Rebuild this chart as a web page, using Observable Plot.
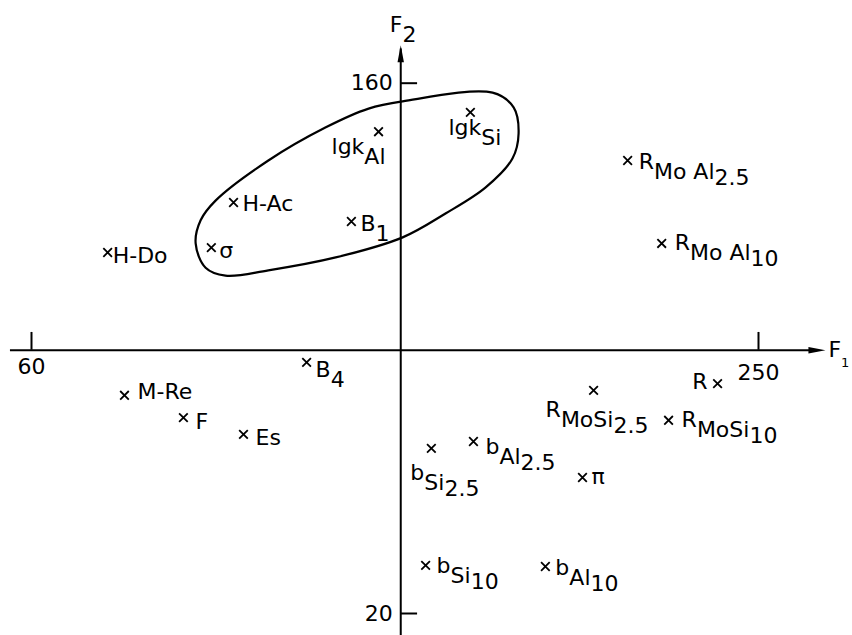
<!DOCTYPE html>
<html>
<head>
<meta charset="utf-8">
<script src="https://cdn.jsdelivr.net/npm/d3@7"></script>
<script src="https://cdn.jsdelivr.net/npm/@observablehq/plot@0.6"></script>
<style>
  html, body { margin: 0; padding: 0; background: #fff; }
  #chart { width: 852px; height: 635px; }
</style>
</head>
<body>
<div id="chart"></div>
<script>
// ---------- data ----------
const labels = ["H-Do", "σ", "H-Ac", "lgk_{Al}", "B_{1}", "lgk_{Si}",
  "R_{Mo Al_{2.5}}", "R_{Mo Al_{10}}", "B_{4}", "M-Re", "F", "Es", "R",
  "R_{MoSi_{2.5}}", "R_{MoSi_{10}}", "b_{Si_{2.5}}", "b_{Al_{2.5}}", "π",
  "b_{Si_{10}}", "b_{Al_{10}}"];
const f1 = [79.9, 107, 112.8, 150.7, 143.6, 174.7, 215.8, 224.7, 131.9, 84.3,
  99.7, 115.4, 239.3, 206.9, 226.5, 164.5, 175.5, 204, 163, 194.3];
const f2 = [115.3, 116.6, 128.5, 147.2, 123.5, 152.3, 139.6, 117.7, 86.3, 77.6,
  71.7, 67.3, 80.7, 78.9, 71, 63.6, 65.4, 55.9, 32.7, 32.4];

// enclosing curve (F1, F2)
const hullF1 = [157, 180.5, 186, 187.3, 185.7, 178.7, 168.2, 157, 139.5, 121.9,
  110.7, 105.5, 102.9, 104.2, 108.1, 121.9, 136.8, 148.1];
const hullF2 = [155.2, 157.5, 153.6, 146.7, 140.1, 132.5, 125.6, 119.3, 114, 110.6,
  109.2, 111.3, 117.7, 123.8, 129, 139.6, 148.3, 153.3];

const xTicks = [60, 250];
const yTicks = [160, 20];
const axisTitles = ["F_{1}", "F_{2}"];
const axisCrossF1 = 156.5, axisCrossF2 = 89.5;
const xAxisExtent = [54.5, 267.5];
const yAxisExtent = [14, 170];

// ---------- layout (label anchor, dx, dy in px) ----------
const labelLayout = [
  ["start", 5, 3], ["start", 8, 3], ["start", 9, 1], ["end", 7, 15], ["start", 9, 2],
  ["start", -22, 16], ["start", 11, 1], ["start", 13, 0], ["start", 9, 8], ["start", 13, -3],
  ["start", 12, 4], ["start", 12, 4], ["end", -10, -2], ["start", -48, 20], ["start", 13, 0],
  ["start", -21, 25], ["start", 12, 5], ["start", 9, -1], ["start", 11, 1], ["start", 10, 1]
];

const rows = labels.map((label, i) => ({label, f1: f1[i], f2: f2[i]}));
const hull = hullF1.map((v, i) => ({f1: v, f2: hullF2[i]}));

// filled, slender arrowhead symbol: tip at the anchor point, pointing up
const arrowHead = {
  draw(context) {
    context.moveTo(0, 0);
    context.lineTo(3.2, 17);
    context.lineTo(-3.2, 17);
    context.closePath();
  }
};

const FS = 22;
const marks = [
  Plot.line(hull, {x: "f1", y: "f2", curve: "catmull-rom-closed", stroke: "black", strokeWidth: 2.2}),
  // axes
  Plot.ruleY([axisCrossF2], {x1: xAxisExtent[0], x2: xAxisExtent[1] - 2, stroke: "black", strokeWidth: 2}),
  Plot.ruleX([axisCrossF1], {y1: yAxisExtent[0], y2: yAxisExtent[1] - 1, stroke: "black", strokeWidth: 2}),
  Plot.dot([{x: xAxisExtent[1], y: axisCrossF2}], {x: "x", y: "y", symbol: arrowHead, rotate: 90, fill: "black", stroke: "none"}),
  Plot.dot([{x: axisCrossF1, y: yAxisExtent[1]}], {x: "x", y: "y", symbol: arrowHead, fill: "black", stroke: "none"}),
  // ticks
  Plot.ruleY(yTicks, {x1: axisCrossF1, x2: axisCrossF1 + 4.4, stroke: "black", strokeWidth: 2}),
  Plot.ruleX(xTicks, {y1: axisCrossF2, y2: axisCrossF2 + 4.7, stroke: "black", strokeWidth: 2}),
  Plot.text(yTicks, {x: axisCrossF1, y: d => d, text: d => String(d), textAnchor: "end", dx: -8, fontSize: FS}),
  Plot.text([xTicks[0]], {x: d => d, y: axisCrossF2, text: d => String(d), dy: 17, fontSize: FS}),
  Plot.text([xTicks[1]], {x: d => d, y: axisCrossF2, text: d => String(d), dy: 23, fontSize: FS}),
  Plot.text([axisTitles[0]], {x: xAxisExtent[1], y: axisCrossF2, text: d => d, textAnchor: "start", dx: 3, dy: 0, fontSize: FS}),
  Plot.text([axisTitles[1]], {x: axisCrossF1, y: yAxisExtent[1], text: d => d, textAnchor: "start", dx: -11, dy: -20, fontSize: FS}),
  // points
  Plot.dot(rows, {x: "f1", y: "f2", symbol: "times", r: 4, stroke: "black", strokeWidth: 1.8}),
  ...rows.map((r, i) => Plot.text([r], {x: "f1", y: "f2", text: "label",
    textAnchor: labelLayout[i][0], dx: labelLayout[i][1], dy: labelLayout[i][2], fontSize: FS}))
];

const plot = Plot.plot({
  width: 852, height: 635, margin: 0,
  x: {domain: [60, 250], range: [31, 758], axis: null},
  y: {domain: [20, 160], range: [613, 82.7], axis: null},
  style: {fontFamily: "DejaVu Sans", background: "white", color: "black"},
  marks
});

// subscripts: "_{...}" -> lowered tspans
function parseLabel(s) {
  const out = []; let level = 0, buf = "";
  for (let i = 0; i < s.length; i++) {
    if (s[i] === "_" && s[i + 1] === "{") { if (buf) out.push({t: buf, level}); buf = ""; level++; i++; }
    else if (s[i] === "}") { if (buf) out.push({t: buf, level}); buf = ""; level--; }
    else buf += s[i];
  }
  if (buf) out.push({t: buf, level});
  return out;
}
const shift = [0, 10, 16];
plot.querySelectorAll("text").forEach(el => {
  const s = el.textContent;
  if (!s.includes("_{")) return;
  const isF1 = s === axisTitles[0];
  const segs = parseLabel(s);
  while (el.firstChild) el.removeChild(el.firstChild);
  let prev = 0;
  segs.forEach(seg => {
    const ts = document.createElementNS("http://www.w3.org/2000/svg", "tspan");
    ts.setAttribute("dy", (shift[seg.level] - shift[prev]) + "px");
    if (isF1 && seg.level > 0) ts.setAttribute("font-size", "13");
    ts.setAttribute("xml:space", "preserve");
    ts.textContent = seg.t;
    el.appendChild(ts);
    prev = seg.level;
  });
});
document.getElementById("chart").appendChild(plot);
</script>
</body>
</html>
